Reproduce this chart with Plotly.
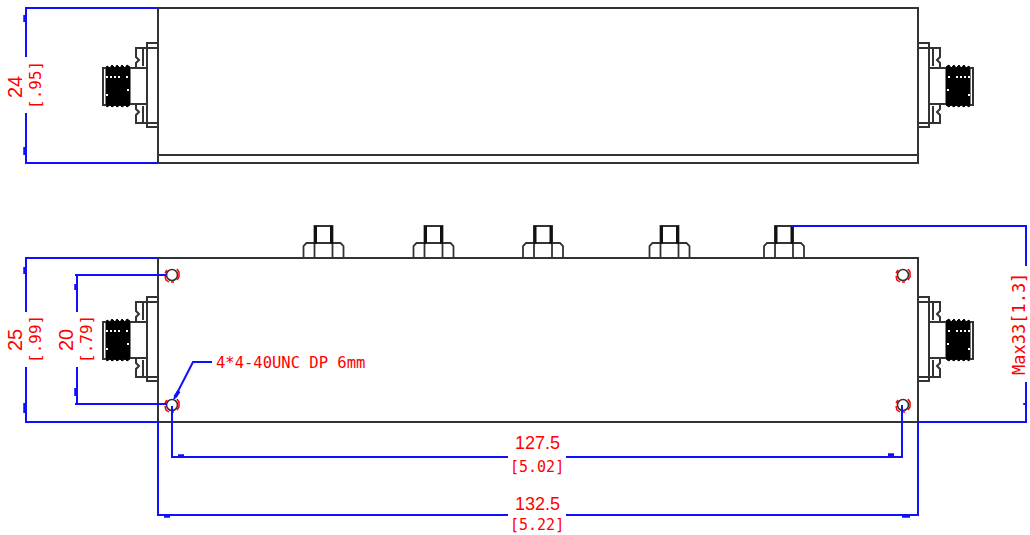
import plotly.graph_objects as go

# ---- drawing geometry, in sheet units (sheet 1030 x 535, y downward) ----
BOX_LINES = [
    [(158, 8), (918, 8), (918, 163), (158, 163), (158, 8)],
    [(158, 155), (918, 155)],
    [(158, 258), (918, 258), (918, 422), (158, 422), (158, 258)],
]
# connector, left side, top view
CONN_LINES = [
    [(158, 43), (147, 43), (147, 127), (158, 127)],
    [(147, 48), (157, 48)],
    [(147, 123), (157, 123)],
    [(147, 48), (136, 48), (136, 57), (139, 60), (136, 63), (136, 68), (147, 68)],
    [(147, 104), (136, 104), (136, 109), (139, 112), (136, 115), (136, 123), (147, 123)],
    [(143, 48), (143, 66)],
    [(143, 106), (143, 123)],
    [(130, 68), (147, 68)],
    [(130, 104), (147, 104)],
    [(106, 68), (103, 68), (103, 105), (106, 105)],
]
THREAD_OUTLINE = [(106, 68), (107, 66), (110, 68), (112, 65), (115, 68), (117, 65), (120, 68),
                  (122, 65), (125, 68), (127, 65), (130, 67), (130, 105), (127, 107), (125, 105),
                  (122, 107), (120, 105), (117, 107), (115, 105), (112, 107), (110, 105),
                  (107, 107), (106, 105)]
THREAD_DOTS = [(107, 77), (111, 77), (115, 77), (119, 77), (127, 77), (107, 95), (128, 90)]
CONN_MIRROR_X = 1076
CONN_VIEW_DY = 254

# studs along the upper edge of the lower view
STUD_CENTRES = [323.5, 433.5, 543, 669.5, 784]
STUD_SHAPE = [
    [(-20, 257), (-20, 246), (-17, 243), (17, 243), (20, 246), (20, 257)],
    [(-9, 257), (-9, 226), (9, 226), (9, 257)],
]
STUD_THICK = [[(-8, 226), (-8, 244)], [(8, 226), (8, 244)]]

HOLES_X = [172, 172, 903, 903]
HOLES_Y = [275, 405, 275, 405]
HOLE_RED_ARCS = [
    [(5, -6), (7, -3), (7, 2), (5, 5)],
    [(-7, 1), (-6, 5), (-3, 7)],
    [(-1, 7), (2, 7)],
    [(-5, -5), (-7, -2)],
]

DIM_LINES = [
    [(25, 8), (158, 8)], [(25, 163), (158, 163)],
    [(26, 8), (26, 57)], [(26, 113), (26, 163)],
    [(25, 258), (158, 258)], [(25, 422), (158, 422)],
    [(26, 258), (26, 312)], [(26, 367), (26, 422)],
    [(75, 275), (167, 275)], [(75, 404), (167, 404)],
    [(77, 275), (77, 312)], [(77, 367), (77, 404)],
    [(791, 226), (1026, 226), (1026, 266)], [(1026, 382), (1026, 422), (918, 422)],
    [(212, 362), (193, 362), (174, 399)],
    [(172, 406), (172, 457), (508, 457)], [(566, 457), (902, 457), (902, 405)],
    [(158, 422), (158, 515), (508, 515)], [(566, 515), (918, 515), (918, 422)],
]
DIM_TICKS = [
    [(25, 15), (25, 22)], [(25, 147), (25, 155)],
    [(25, 267), (25, 274)], [(25, 403), (25, 413)],
    [(76, 284), (76, 290)], [(76, 388), (76, 396)],
    [(1025, 403), (1025, 405)],
    [(175, 397), (179, 391)],
    [(178, 456), (184, 456)], [(164, 516), (170, 516)],
    [(888, 455), (894, 455)], [(902, 516), (910, 516)],
]

LABEL_TEXT = ["24", "[.95]", "25", "[.99]", "20", "[.79]", "Max33[1.3]",
              "4*4-40UNC DP 6mm", "127.5", "[5.02]", "132.5", "[5.22]"]
LABEL_X = [15, 35, 15, 35, 66, 86, 1019, 214, 537, 537, 537, 537]
LABEL_Y = [87, 85, 340, 339, 340, 339, 324, 363, 443, 467, 504, 525]
LABEL_ANGLE = [-90, -90, -90, -90, -90, -90, -90, 0, 0, 0, 0, 0]
LABEL_SIZE = [20, 16, 20, 16, 20, 16, 17, 15.5, 18, 15, 18, 15]
LABEL_SANS = [True, False, True, False, True, False, False, False, True, False, True, False]

INK = "#333333"
BLUE = "#1010ff"
RED = "#ff0000"
MONO = "DejaVu Sans Mono, Liberation Mono, monospace"
SANS = "Liberation Sans, sans-serif"


def path_xy(paths):
    xs, ys = [], []
    for path in paths:
        xs += [p[0] for p in path] + [None]
        ys += [p[1] for p in path] + [None]
    return xs, ys


def moved(paths, dx=0, dy=0, mirror=False):
    return [[((CONN_MIRROR_X - x if mirror else x) + dx, y + dy) for x, y in p] for p in paths]


fig = go.Figure()


def add(paths, color, width, fill=None):
    xs, ys = path_xy(paths)
    fig.add_trace(go.Scatter(x=xs, y=ys, mode="lines", fill=fill, fillcolor=color if fill else None,
                             line=dict(color=color, width=width), hoverinfo="skip", showlegend=False))


conn, threads, dots = [], [], []
for dy in (0, CONN_VIEW_DY):
    for mirror in (False, True):
        conn += moved(CONN_LINES, dy=dy, mirror=mirror)
        threads += moved([THREAD_OUTLINE + THREAD_OUTLINE[:1]], dy=dy, mirror=mirror)
        dots += moved([THREAD_DOTS], dy=dy, mirror=mirror)

add(threads, "#000000", 1, fill="toself")
add(conn, INK, 2)
add(BOX_LINES, INK, 2)

studs, stud_thick = [], []
for c in STUD_CENTRES:
    studs += moved(STUD_SHAPE, dx=c)
    stud_thick += moved(STUD_THICK, dx=c)
add(studs, INK, 1.8)
add(stud_thick, "#111111", 3)

dot_xy = path_xy(dots)
fig.add_trace(go.Scatter(x=dot_xy[0], y=dot_xy[1], mode="markers",
                         marker=dict(color="white", size=2, symbol="square"),
                         hoverinfo="skip", showlegend=False))

fig.add_trace(go.Scatter(x=HOLES_X, y=HOLES_Y, mode="markers",
                         marker=dict(color="white", size=11, line=dict(color=INK, width=1.6)),
                         hoverinfo="skip", showlegend=False))
red_arcs = []
for hx, hy in zip(HOLES_X, HOLES_Y):
    red_arcs += moved(HOLE_RED_ARCS, dx=hx, dy=hy)
add(red_arcs, RED, 1.5)

add(DIM_LINES, BLUE, 2)
add(DIM_TICKS, BLUE, 3.5)

for text, x, y, angle, size, sans in zip(LABEL_TEXT, LABEL_X, LABEL_Y, LABEL_ANGLE, LABEL_SIZE, LABEL_SANS):
    fig.add_annotation(x=x, y=y, text=text, textangle=angle, showarrow=False,
                       xanchor="left" if text.startswith("4*") else "center", yanchor="middle",
                       font=dict(family=SANS if sans else MONO, size=size, color=RED))

fig.update_layout(
    width=1030, height=535, margin=dict(l=0, r=0, t=0, b=0),
    paper_bgcolor="white", plot_bgcolor="white", showlegend=False,
    xaxis=dict(range=[0, 1030], visible=False, fixedrange=True),
    yaxis=dict(range=[535, 0], visible=False, fixedrange=True),
)
fig.write_html("out.html", config={"displayModeBar": False},
               post_script="document.body.style.margin='0';document.documentElement.style.overflow='hidden';")
